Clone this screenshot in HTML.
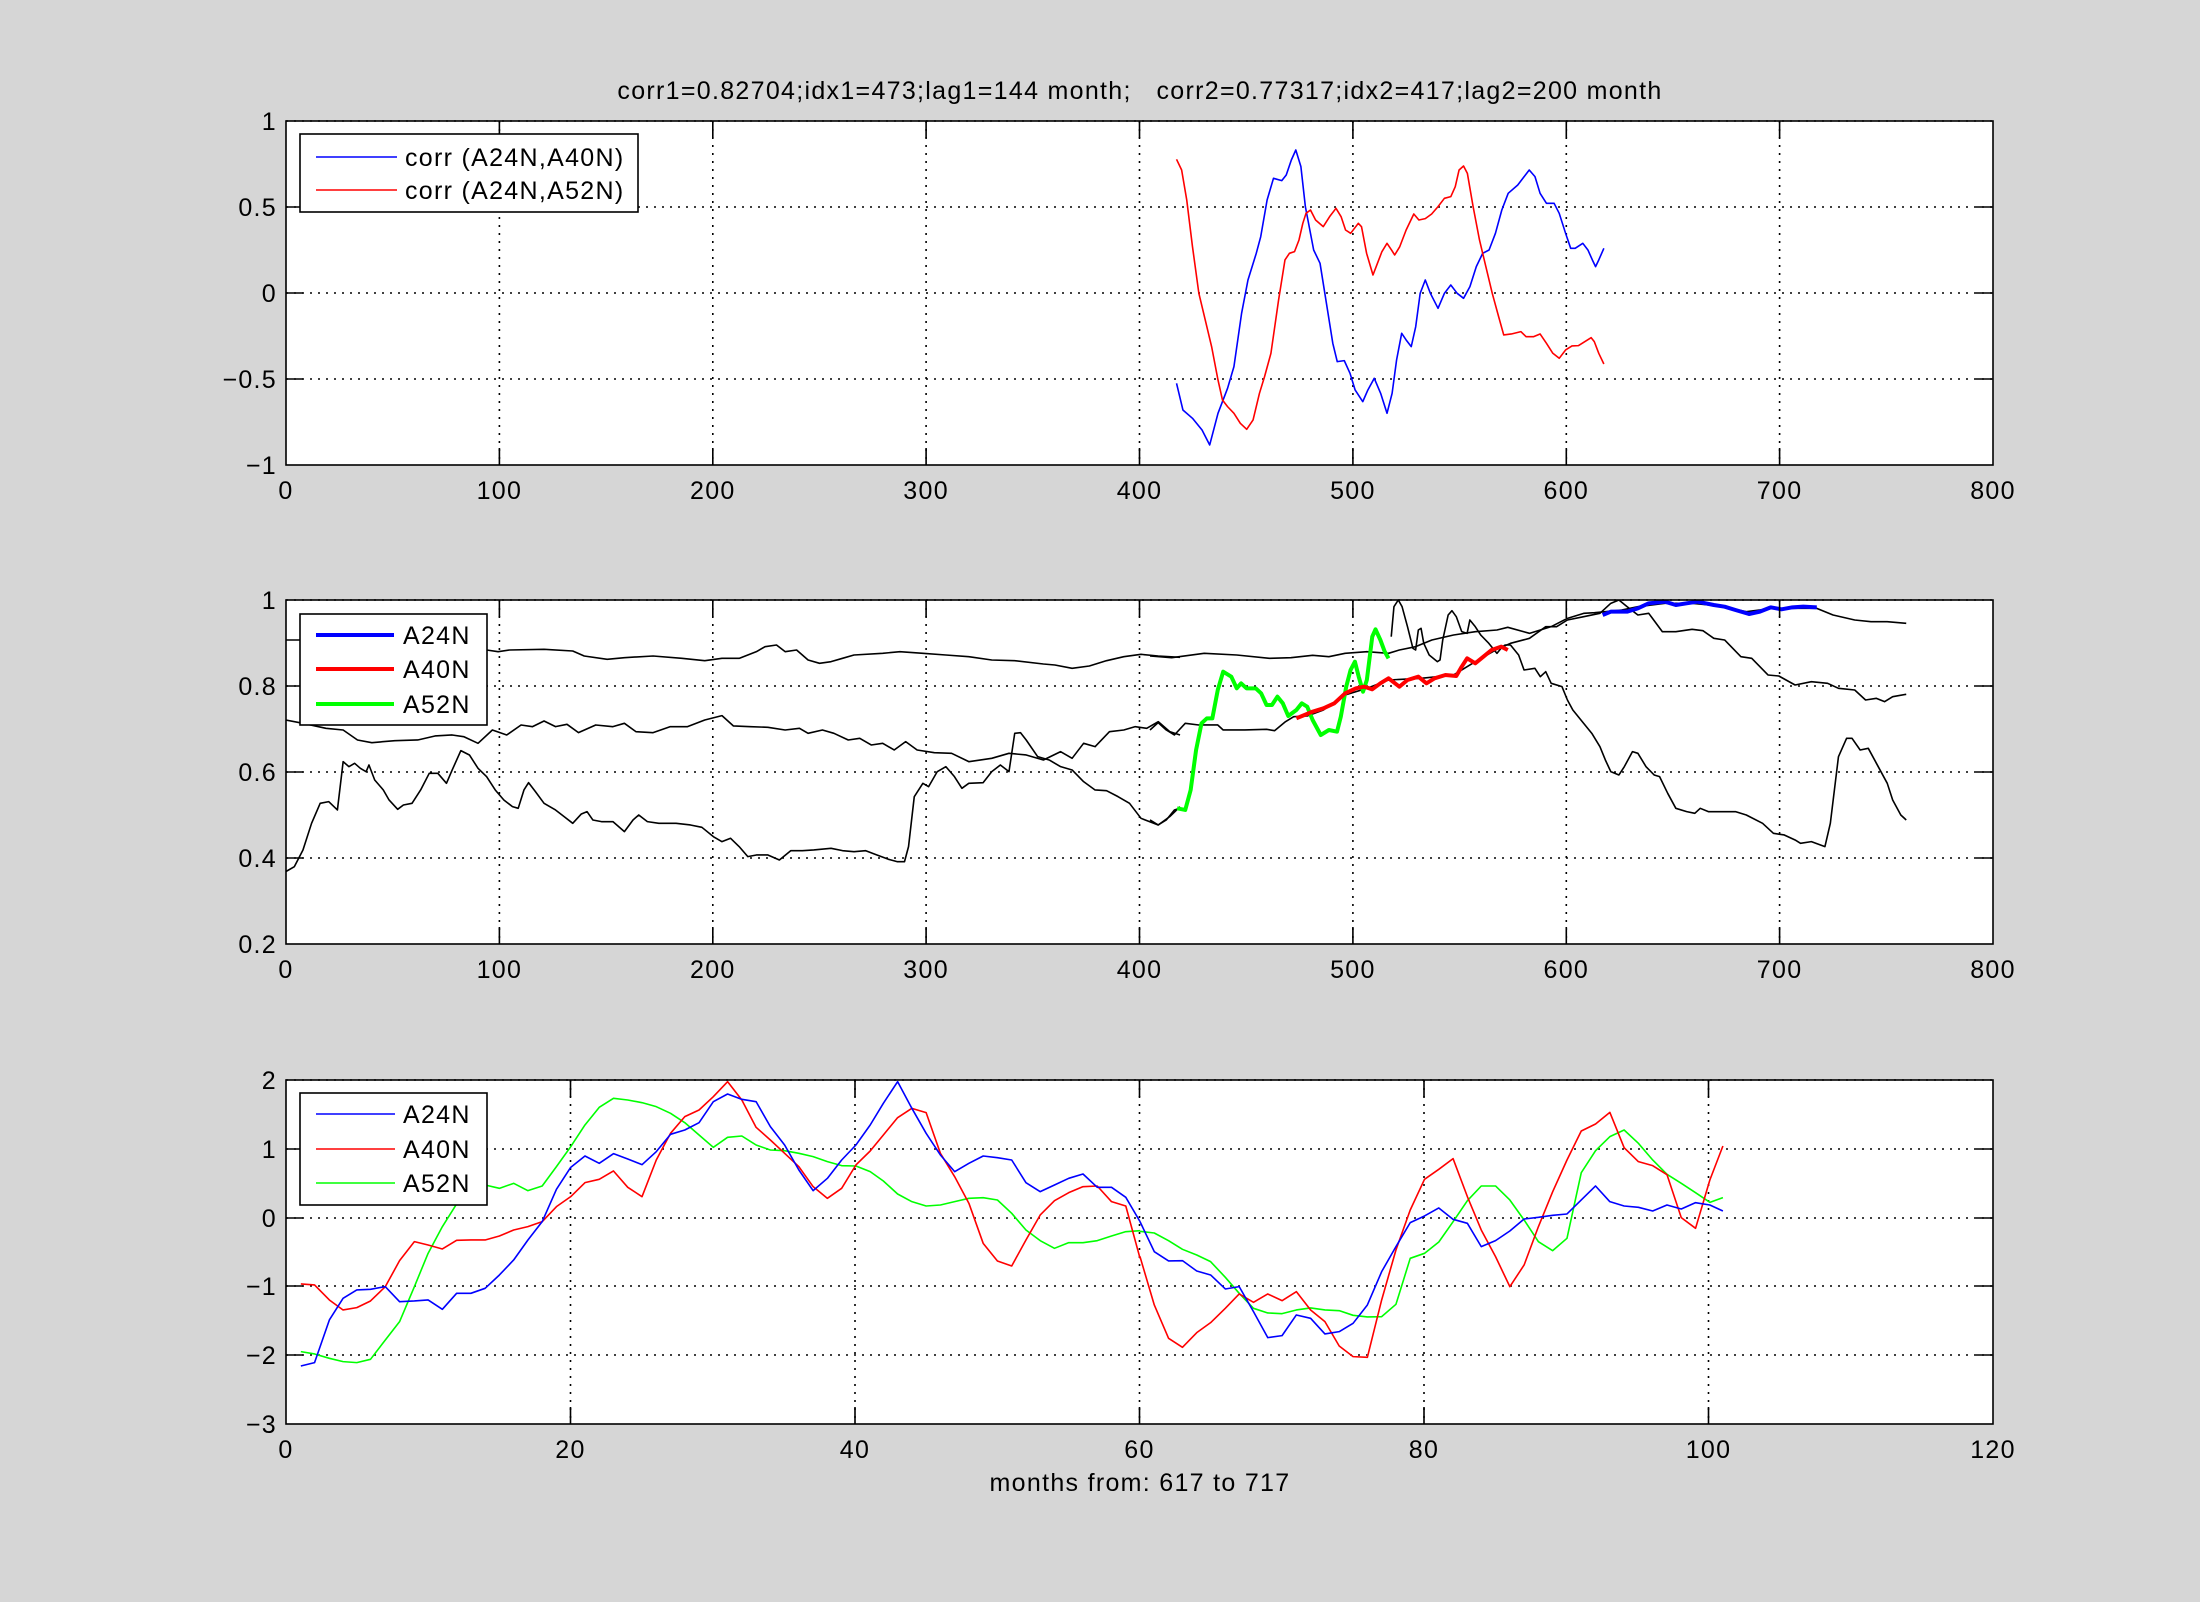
<!DOCTYPE html>
<html><head><meta charset="utf-8"><style>
html,body{margin:0;padding:0;background:#d6d6d6;}
svg{display:block;font-family:"Liberation Sans",sans-serif;}
text{font-size:25px;fill:#000;letter-spacing:1.3px;}
.ln{fill:none;vector-effect:non-scaling-stroke;stroke-linejoin:round;}
.g{stroke:#000;stroke-width:1.6;stroke-dasharray:2,6;}
</style></head><body>
<svg width="2200" height="1602" viewBox="0 0 2200 1602" xmlns="http://www.w3.org/2000/svg">
<rect width="2200" height="1602" fill="#d6d6d6"/>
<defs>
<clipPath id="c1"><rect x="286" y="121" width="1707" height="344"/></clipPath>
<clipPath id="c2"><rect x="286" y="600" width="1707" height="344"/></clipPath>
<clipPath id="c3"><rect x="286" y="1080" width="1707" height="344"/></clipPath>
</defs>

<text x="1140" y="99" text-anchor="middle" style="white-space:pre">corr1=0.82704;idx1=473;lag1=144 month;   corr2=0.77317;idx2=417;lag2=200 month</text>

<!-- PANEL 1 -->
<rect x="286" y="121" width="1707" height="344" fill="#fff"/>
<g class="g">
<line x1="499.4" y1="121" x2="499.4" y2="465"/><line x1="712.8" y1="121" x2="712.8" y2="465"/><line x1="926.1" y1="121" x2="926.1" y2="465"/><line x1="1139.5" y1="121" x2="1139.5" y2="465"/><line x1="1352.9" y1="121" x2="1352.9" y2="465"/><line x1="1566.3" y1="121" x2="1566.3" y2="465"/><line x1="1779.6" y1="121" x2="1779.6" y2="465"/>
<line x1="286" y1="121" x2="1993" y2="121"/><line x1="286" y1="207" x2="1993" y2="207"/><line x1="286" y1="293" x2="1993" y2="293"/><line x1="286" y1="379" x2="1993" y2="379"/>
</g>
<g clip-path="url(#c1)"><g transform="translate(1100,60) scale(0.6378,0.3333)">
<polyline class="ln" stroke="#0000ff" stroke-width="1.6" points="120,970 130,1050 145,1075 160,1110 172,1155 185,1060 200,985 210,920 222,760 232,660 245,580 252,530 262,420 272,355 285,362 292,345 300,300 307,270 315,320 322,440 335,570 345,610 355,730 365,850 372,905 383,902 392,940 400,990 412,1025 420,990 430,955 440,1000 450,1060 458,1000 465,900 473,820 480,840 488,860 495,800 502,700 510,660 518,700 530,745 540,700 550,675 560,700 570,715 580,680 590,620 600,580 610,570 620,520 630,450 640,400 655,375 665,350 673,330 682,350 690,400 700,430 712,430 720,460 730,520 738,565 745,565 757,550 765,570 772,600 777,620 782,600 790,565"/>
<polyline class="ln" stroke="#ff0000" stroke-width="1.6" points="120,298 128,330 136,420 145,560 155,700 165,780 175,860 185,960 192,1020 200,1040 210,1060 220,1090 230,1108 240,1080 250,1000 258,950 268,880 280,720 290,600 297,580 305,575 312,540 318,490 323,460 330,450 338,480 350,500 360,470 370,445 378,470 385,510 393,520 405,490 410,500 418,580 428,645 435,610 442,575 450,550 457,570 462,585 470,560 480,510 492,462 500,480 510,476 520,462 530,440 540,415 550,410 557,380 563,330 570,318 576,340 585,440 595,540 605,620 615,700 625,770 633,825 645,822 660,815 668,830 680,830 690,822 700,850 710,880 720,895 730,870 740,858 750,857 760,845 770,833 775,845 782,880 790,912"/>
</g></g>
<rect x="286" y="121" width="1707" height="344" fill="none" stroke="#000" stroke-width="1.6"/>
<g stroke="#000" stroke-width="1.6">
<path d="M499.4,465v-17M712.8,465v-17M926.1,465v-17M1139.5,465v-17M1352.9,465v-17M1566.3,465v-17M1779.6,465v-17M499.4,121v17M712.8,121v17M926.1,121v17M1139.5,121v17M1352.9,121v17M1566.3,121v17M1779.6,121v17M286,207h17M286,293h17M286,379h17M1993,207h-17M1993,293h-17M1993,379h-17"/>
</g>
<g text-anchor="middle"><text x="286" y="499">0</text><text x="499.4" y="499">100</text><text x="712.8" y="499">200</text><text x="926.1" y="499">300</text><text x="1139.5" y="499">400</text><text x="1352.9" y="499">500</text><text x="1566.3" y="499">600</text><text x="1779.6" y="499">700</text><text x="1993" y="499">800</text></g>
<g text-anchor="end"><text x="277" y="130">1</text><text x="277" y="216">0.5</text><text x="277" y="302">0</text><text x="277" y="388">−0.5</text><text x="277" y="474">−1</text></g>
<rect x="300" y="134" width="338" height="78" fill="#fff" stroke="#000" stroke-width="1.6"/>
<line x1="316" y1="157" x2="397" y2="157" stroke="#0000ff" stroke-width="1.6"/>
<line x1="316" y1="190" x2="397" y2="190" stroke="#ff0000" stroke-width="1.6"/>
<text x="405" y="166">corr (A24N,A40N)</text><text x="405" y="199">corr (A24N,A52N)</text>

<!-- PANEL 2 -->
<rect x="286" y="600" width="1707" height="344" fill="#fff"/>
<g class="g">
<line x1="499.4" y1="600" x2="499.4" y2="944"/><line x1="712.8" y1="600" x2="712.8" y2="944"/><line x1="926.1" y1="600" x2="926.1" y2="944"/><line x1="1139.5" y1="600" x2="1139.5" y2="944"/><line x1="1352.9" y1="600" x2="1352.9" y2="944"/><line x1="1566.3" y1="600" x2="1566.3" y2="944"/><line x1="1779.6" y1="600" x2="1779.6" y2="944"/>
<line x1="286" y1="600" x2="1993" y2="600"/><line x1="286" y1="686" x2="1993" y2="686"/><line x1="286" y1="772" x2="1993" y2="772"/><line x1="286" y1="858" x2="1993" y2="858"/>
</g>
<g clip-path="url(#c2)">
<g transform="translate(280,590) scale(0.5740,0.3333)">
<polyline class="ln" stroke="#000" stroke-width="1.6" points="10,150 35,150 200,160 360,180 380,185 400,180 460,178 510,183 530,198 570,208 600,203 650,198 700,205 740,212 770,205 800,205 830,185 845,170 865,165 880,185 900,180 920,210 940,220 960,215 980,205 1000,195 1050,190 1080,185 1120,190 1160,195 1200,200 1240,210 1280,212 1330,222 1350,225 1380,235 1410,228 1440,212 1470,200 1500,193 1530,198 1568,202"/>
<polyline class="ln" stroke="#000" stroke-width="1.6" points="10,390 40,400 80,415 110,420 135,450 160,458 200,452 240,450 270,438 300,435 320,440 345,460 370,420 395,435 420,405 440,410 460,393 480,410 500,403 520,428 550,405 580,410 600,400 620,425 650,428 680,410 710,410 740,390 770,377 790,408 820,410 850,412 880,420 905,415 920,430 945,420 965,430 990,450 1010,445 1030,465 1050,460 1070,480 1090,455 1110,480 1140,488 1170,490 1200,515 1240,505 1270,490 1300,495 1330,510 1360,485 1380,505 1400,460 1420,470 1445,425 1470,420 1490,410 1510,415 1530,395 1550,425 1568,435"/>
<polyline class="ln" stroke="#000" stroke-width="1.6" points="10,845 25,830 40,780 55,700 70,640 85,635 100,660 110,515 120,530 130,520 140,535 150,545 155,525 165,570 180,600 190,630 205,658 215,645 230,640 245,600 260,550 275,550 290,580 300,540 315,482 330,495 345,535 360,560 375,600 390,630 405,650 415,655 425,600 433,578 445,605 460,640 480,660 495,680 510,700 525,672 535,665 545,690 560,695 580,695 600,725 615,690 625,675 640,695 660,700 690,700 715,705 735,712 755,740 770,755 785,745 800,770 815,800 830,795 850,795 870,810 890,782 910,782 930,780 960,775 980,782 1000,785 1020,782 1040,795 1060,808 1075,815 1088,815 1095,770 1105,620 1120,580 1130,590 1145,545 1160,530 1175,560 1188,595 1200,580 1225,578 1240,545 1255,525 1270,545 1280,430 1290,428 1300,450 1320,500 1340,510 1360,530 1380,540 1400,575 1420,600 1440,602 1460,620 1480,640 1500,685 1530,705 1550,680 1568,650"/>
</g>
<g transform="translate(1150,590) scale(0.5421,0.3333)">
<polyline class="ln" stroke="#000" stroke-width="1.6" points="0,198 40,203 100,190 160,195 220,205 260,203 300,196 330,200 360,190 400,185 440,190 460,180 490,170 520,150 560,135 600,125 640,120 660,112 700,130 740,110 770,85 800,70 820,68 840,65 870,60 900,50 950,40 1000,40 1050,48 1100,65 1150,55 1230,55 1260,75 1300,90 1330,95 1360,95 1395,100"/>
<polyline class="ln" stroke="#000" stroke-width="1.6" points="0,420 15,398 30,420 45,435 65,400 90,405 125,405 135,420 175,420 215,418 230,422 250,395 265,380 290,378 320,360 360,315 400,295 440,270 500,265 560,255 600,215 640,178 665,160 700,145 730,110 750,110 770,90 800,80 830,70 850,40 865,30 880,50 900,75 920,70 945,125 970,125 1000,118 1020,122 1040,145 1060,150 1090,200 1110,205 1140,255 1160,258 1190,285 1220,275 1250,280 1270,295 1300,300 1320,330 1340,325 1355,335 1370,320 1395,313"/>
<polyline class="ln" stroke="#000" stroke-width="1.6" points="0,690 15,705 30,690 45,660 55,655"/>
<polyline class="ln" stroke="#000" stroke-width="1.6" points="445,140 450,50 458,30 465,50 475,110 485,175 490,180 495,120 500,115 505,160 515,195 530,215 535,210 540,150 550,75 557,62 565,80 575,125 585,130 590,90 600,110 610,135 625,160 640,190 650,170 655,165 665,165 680,195 690,240 710,235 720,260 730,245 740,280 760,290 770,330 780,360 800,400 815,430 830,470 840,510 850,545 865,555 875,530 890,485 900,490 915,530 930,555 940,560 955,610 970,655 990,665 1005,670 1015,655 1030,665 1060,665 1080,665 1100,675 1130,700 1150,730 1170,735 1190,750 1200,760 1220,755 1245,770 1255,700 1270,500 1285,445 1295,445 1310,480 1325,475 1340,520 1360,580 1370,630 1385,675 1395,690"/>
<polyline class="ln" stroke="#00ff00" stroke-width="4" points="50,655 65,660 75,600 85,480 95,400 105,385 115,385 125,300 135,245 150,260 160,295 168,280 178,295 195,295 205,310 215,345 225,345 235,320 245,340 255,378 270,360 280,340 290,350 300,390 315,435 330,420 345,425 352,380 362,290 370,240 378,215 385,260 393,305 400,270 410,140 416,118 425,150 433,185 440,205"/>
<polyline class="ln" stroke="#ff0000" stroke-width="4" points="270,385 285,375 300,365 320,355 340,340 360,310 380,295 395,290 410,298 425,280 440,265 460,290 475,270 495,260 510,280 525,265 545,255 565,258 575,230 585,205 600,220 615,200 630,180 648,170 660,180"/>
<polyline class="ln" stroke="#0000ff" stroke-width="4" points="835,75 850,65 880,65 900,55 920,40 950,35 970,45 990,40 1010,35 1040,45 1060,50 1080,60 1105,72 1125,65 1145,52 1165,58 1185,52 1205,50 1230,52"/>
</g>
</g>
<rect x="286" y="600" width="1707" height="344" fill="none" stroke="#000" stroke-width="1.6"/>
<g stroke="#000" stroke-width="1.6">
<path d="M499.4,944v-17M712.8,944v-17M926.1,944v-17M1139.5,944v-17M1352.9,944v-17M1566.3,944v-17M1779.6,944v-17M499.4,600v17M712.8,600v17M926.1,600v17M1139.5,600v17M1352.9,600v17M1566.3,600v17M1779.6,600v17M286,686h17M286,772h17M286,858h17M1993,686h-17M1993,772h-17M1993,858h-17"/>
</g>
<g text-anchor="middle"><text x="286" y="978">0</text><text x="499.4" y="978">100</text><text x="712.8" y="978">200</text><text x="926.1" y="978">300</text><text x="1139.5" y="978">400</text><text x="1352.9" y="978">500</text><text x="1566.3" y="978">600</text><text x="1779.6" y="978">700</text><text x="1993" y="978">800</text></g>
<g text-anchor="end"><text x="277" y="609">1</text><text x="277" y="695">0.8</text><text x="277" y="781">0.6</text><text x="277" y="867">0.4</text><text x="277" y="953">0.2</text></g>
<rect x="300" y="614" width="187" height="111" fill="#fff" stroke="#000" stroke-width="1.6"/>
<line x1="316" y1="635" x2="394" y2="635" stroke="#0000ff" stroke-width="4"/>
<line x1="316" y1="669" x2="394" y2="669" stroke="#ff0000" stroke-width="4"/>
<line x1="316" y1="704" x2="394" y2="704" stroke="#00ff00" stroke-width="4"/>
<text x="403" y="644">A24N</text><text x="403" y="678">A40N</text><text x="403" y="713">A52N</text>

<!-- PANEL 3 -->
<rect x="286" y="1080" width="1707" height="344" fill="#fff"/>
<g class="g">
<line x1="570.5" y1="1080" x2="570.5" y2="1424"/><line x1="855" y1="1080" x2="855" y2="1424"/><line x1="1139.5" y1="1080" x2="1139.5" y2="1424"/><line x1="1424" y1="1080" x2="1424" y2="1424"/><line x1="1708.5" y1="1080" x2="1708.5" y2="1424"/>
<line x1="286" y1="1080" x2="1993" y2="1080"/><line x1="286" y1="1149" x2="1993" y2="1149"/><line x1="286" y1="1218" x2="1993" y2="1218"/><line x1="286" y1="1286" x2="1993" y2="1286"/><line x1="286" y1="1355" x2="1993" y2="1355"/>
</g>
<g clip-path="url(#c3)">
<g transform="translate(280,1070) scale(0.5485,0.3333)">
<polyline class="ln" stroke="#00ff00" stroke-width="1.6" points="38,845 63,852 90,865 115,875 140,878 165,868 192,810 218,755 245,650 270,550 296,470 322,402 348,340 374,345 400,355 426,340 452,362 478,348 504,290 530,230 556,165 582,112 608,85 634,90 660,98 686,110 712,130 738,158 764,195 790,232 816,202 842,198 868,225 894,240 920,242 946,250 972,260 998,275 1024,287 1050,288 1076,305 1100,333 1126,372 1152,395 1178,408 1204,405 1230,395 1256,385 1282,383 1308,390 1334,430 1360,480 1386,512 1412,535 1438,518 1464,518 1490,512 1516,498 1542,485 1568,482"/>
<polyline class="ln" stroke="#ff0000" stroke-width="1.6" points="38,642 63,645 90,690 115,720 140,713 165,693 192,650 218,572 245,515 270,525 296,537 322,511 348,510 374,510 400,498 426,480 452,470 478,455 504,410 530,380 556,338 582,328 608,303 634,352 660,380 686,270 712,190 738,140 764,120 790,80 816,35 842,90 868,172 894,210 920,250 946,290 972,350 998,385 1024,355 1050,285 1076,243 1100,195 1126,143 1152,115 1178,128 1204,250 1230,320 1256,400 1282,520 1308,573 1334,588 1360,510 1386,435 1412,392 1438,368 1464,350 1490,348 1516,395 1542,408 1568,565"/>
<polyline class="ln" stroke="#0000ff" stroke-width="1.6" points="38,888 63,878 90,750 115,685 140,660 165,658 192,650 218,695 245,693 270,690 296,718 322,670 348,670 374,655 400,615 426,570 452,510 478,455 504,358 530,292 556,258 582,280 608,251 634,267 660,284 686,245 712,193 738,180 764,158 790,95 816,72 842,88 868,95 894,170 920,225 946,300 972,362 998,325 1024,270 1050,225 1076,165 1100,100 1126,35 1152,115 1178,190 1204,255 1230,305 1256,280 1282,258 1308,263 1334,270 1360,338 1386,365 1412,345 1438,325 1464,312 1490,352 1516,352 1542,382 1568,455"/>
</g>
<g transform="translate(1120,1070) scale(0.4082,0.3333)">
<polyline class="ln" stroke="#00ff00" stroke-width="1.6" points="49,484 84,489 119,512 153,538 188,555 222,575 258,622 292,670 327,715 362,729 397,731 432,720 467,714 502,720 537,722 571,736 606,741 641,740 676,703 711,565 746,550 781,516 816,455 851,392 885,348 920,348 955,390 990,450 1025,515 1060,542 1095,505 1130,308 1165,242 1200,200 1235,180 1270,220 1305,270 1340,313 1375,340 1410,368 1445,397 1477,383"/>
<polyline class="ln" stroke="#ff0000" stroke-width="1.6" points="49,560 84,705 119,805 153,832 188,788 222,758 258,715 292,672 327,697 362,672 397,692 432,665 467,720 502,755 537,828 571,860 606,862 641,690 676,540 711,420 746,328 781,298 816,266 851,380 885,480 920,560 955,650 990,585 1025,470 1060,365 1095,270 1130,183 1165,162 1200,127 1235,233 1270,275 1305,287 1340,314 1375,443 1410,475 1445,330 1477,228"/>
<polyline class="ln" stroke="#0000ff" stroke-width="1.6" points="49,455 84,545 119,573 153,572 188,603 222,615 258,657 292,650 327,725 362,803 397,797 432,735 467,745 502,792 537,785 571,760 606,705 641,605 676,530 711,458 746,438 781,414 816,448 851,460 885,530 920,512 955,483 990,447 1025,442 1060,436 1095,432 1130,390 1165,348 1200,395 1235,408 1270,412 1305,423 1340,405 1375,417 1410,398 1445,405 1477,423"/>
</g>
</g>
<rect x="286" y="1080" width="1707" height="344" fill="none" stroke="#000" stroke-width="1.6"/>
<g stroke="#000" stroke-width="1.6">
<path d="M570.5,1424v-17M855,1424v-17M1139.5,1424v-17M1424,1424v-17M1708.5,1424v-17M570.5,1080v17M855,1080v17M1139.5,1080v17M1424,1080v17M1708.5,1080v17M286,1149h17M286,1218h17M286,1286h17M286,1355h17M1993,1149h-17M1993,1218h-17M1993,1286h-17M1993,1355h-17"/>
</g>
<g text-anchor="middle"><text x="286" y="1458">0</text><text x="570.5" y="1458">20</text><text x="855" y="1458">40</text><text x="1139.5" y="1458">60</text><text x="1424" y="1458">80</text><text x="1708.5" y="1458">100</text><text x="1993" y="1458">120</text></g>
<g text-anchor="end"><text x="277" y="1089">2</text><text x="277" y="1158">1</text><text x="277" y="1227">0</text><text x="277" y="1295">−1</text><text x="277" y="1364">−2</text><text x="277" y="1433">−3</text></g>
<rect x="300" y="1093" width="187" height="112" fill="#fff" stroke="#000" stroke-width="1.6"/>
<line x1="316" y1="1114" x2="395" y2="1114" stroke="#0000ff" stroke-width="1.6"/>
<line x1="316" y1="1149" x2="395" y2="1149" stroke="#ff0000" stroke-width="1.6"/>
<line x1="316" y1="1183" x2="395" y2="1183" stroke="#00ff00" stroke-width="1.6"/>
<text x="403" y="1123">A24N</text><text x="403" y="1158">A40N</text><text x="403" y="1192">A52N</text>

<text x="1140" y="1491" text-anchor="middle">months from: 617 to 717</text>
</svg>
</body></html>
